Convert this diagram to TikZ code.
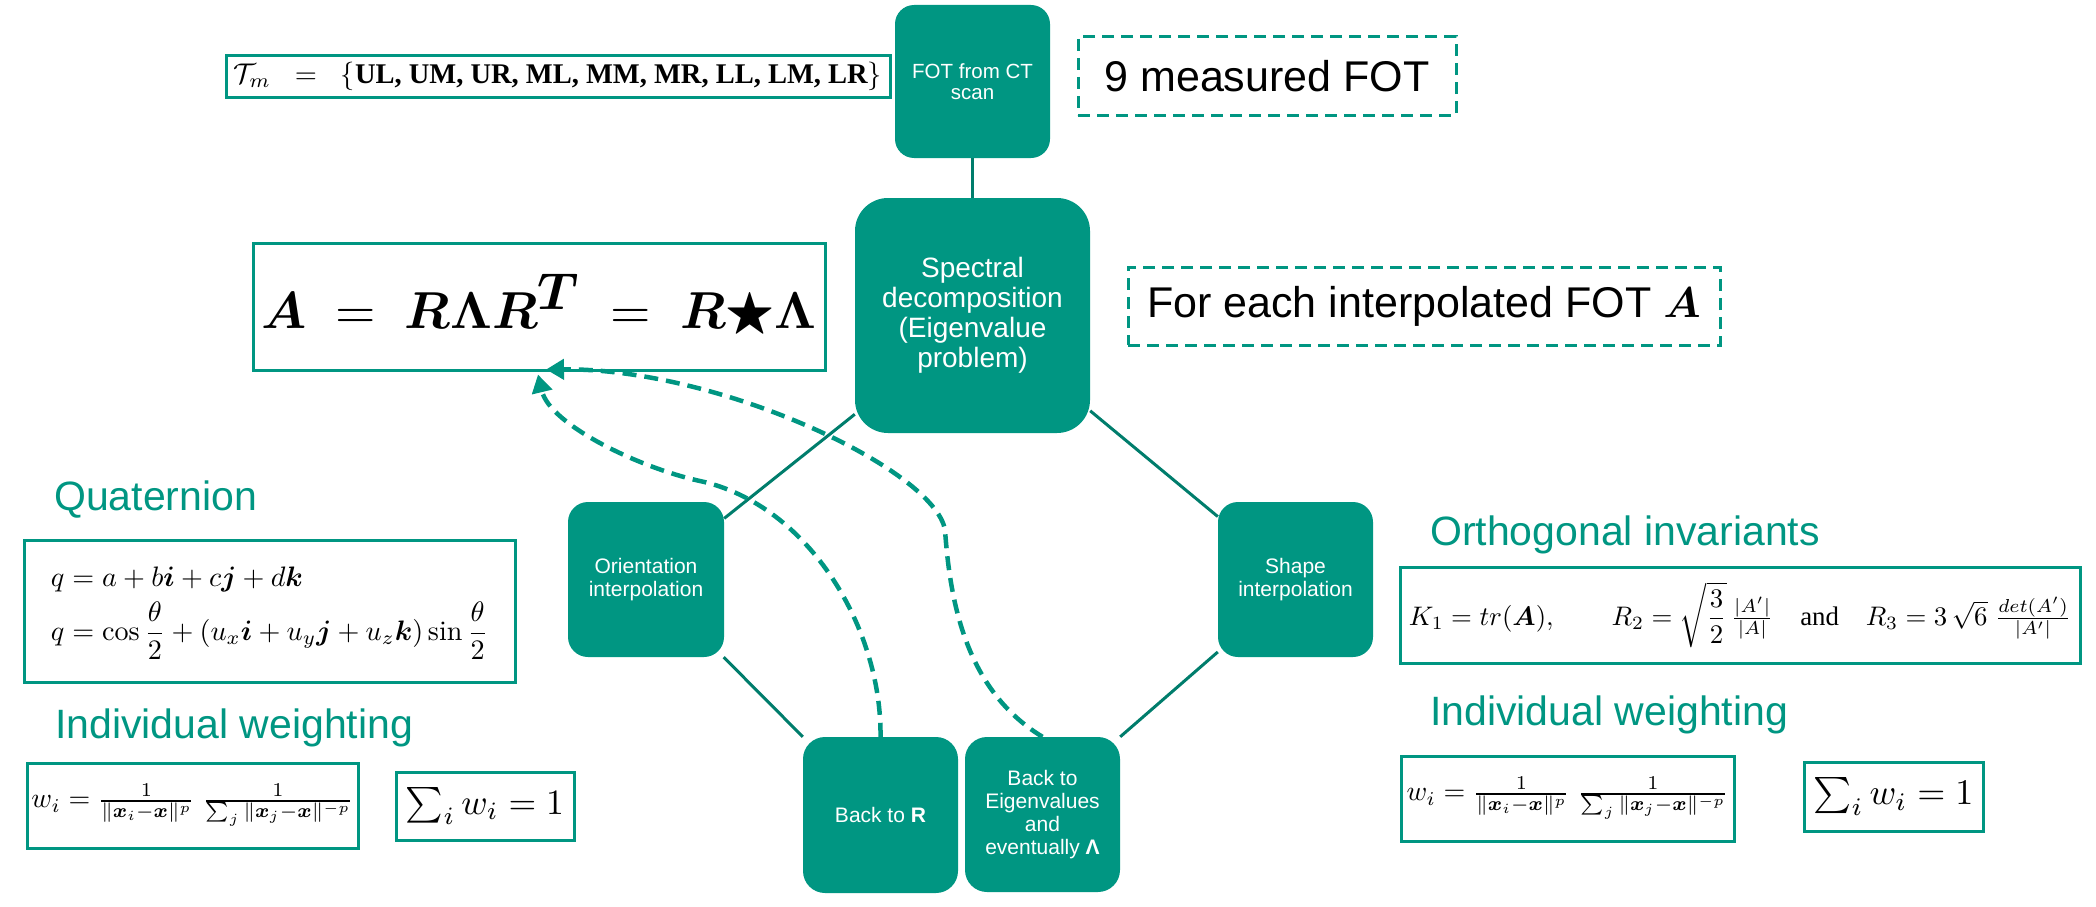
\documentclass[tikz,border=0pt]{standalone}
\usepackage{amsmath,amssymb,bm}
\usepackage{fontspec}
\newfontfamily\arialf{Liberation Sans}
\newfontfamily\timesf{Liberation Serif}
\usetikzlibrary{arrows.meta}
\definecolor{kit}{RGB}{0,150,130}
\definecolor{kitdark}{RGB}{0,125,108}
\begin{document}
\begin{tikzpicture}[x=1pt,y=-1pt,
  gbox/.style={fill=kit, draw=none, text=white, align=center, inner sep=0pt, font=\arialf\fontsize{21}{23}\selectfont},
  fbox/.style={draw=kit, line width=3pt, inner sep=0pt},
  dbox/.style={draw=kit, line width=3pt, dash pattern=on 12pt off 7pt, inner sep=0pt, font=\arialf\fontsize{43}{50}\selectfont},
  ttl/.style={anchor=base west, text=kit, inner sep=0pt, font=\arialf\fontsize{41}{48}\selectfont},
  conn/.style={draw=kitdark, line width=3pt},
  darr/.style={draw=kit, line width=4.5pt, dash pattern=on 14pt off 8pt, -{Triangle[length=18pt,width=20pt]}},
]
\useasboundingbox (0,0) rectangle (2096,907);

% top row
\node[fbox, minimum width=664pt, minimum height=41pt] (tm) at (558,76.5)
  {\resizebox{648pt}{!}{$\mathcal{T}_{m} \;\;=\;\; \{\text{\timesf\bfseries UL, UM, UR, ML, MM, MR, LL, LM, LR}\}$}};
\node[gbox, rounded corners=19pt, minimum width=155pt, minimum height=153pt, font=\arialf\fontsize{20.5}{21.5}\selectfont] (fot) at (972.5,81.5) {FOT from CT\\scan};
\node[dbox, minimum width=378pt, minimum height=78pt] (meas) at (1267,76) {9 measured FOT};

% second row
\node[gbox, rounded corners=33pt, minimum width=235pt, minimum height=235pt, font=\arialf\fontsize{28}{30}\selectfont] (spec) at (972.5,315.5) {Spectral\\decomposition\\(Eigenvalue\\problem)};
\node[fbox, minimum width=572pt, minimum height=127pt] (A) at (539,306.5)
  {\resizebox{555pt}{!}{$\bm{A} \;=\; \bm{R}\bm{\Lambda}\bm{R}^{\textstyle\bm{T}} \;=\; \bm{R}\bigstar\bm{\Lambda}$}};
\node[dbox, minimum width=592pt, minimum height=78pt] (each) at (1424,306) {For each interpolated FOT {\fontsize{10}{12}\selectfont\scalebox{4.3}{$\bm{A}$}}};

% left side
\node[ttl] (tq) at (54,510) {Quaternion};
\node[fbox, minimum width=491pt, minimum height=142pt] (quat) at (269.5,611)
  {\resizebox{437pt}{!}{$\begin{array}{@{}l@{}} q = a + b\bm{i} + c\bm{j} + d\bm{k}\\[2pt] q = \cos\dfrac{\theta}{2} + (u_x\bm{i} + u_y\bm{j} + u_z\bm{k})\sin\dfrac{\theta}{2}\end{array}$}};
\node[ttl] (tw1) at (55,738) {Individual weighting};
\node[fbox, minimum width=331pt, minimum height=85pt] (w1) at (192.5,805.5)
  {\resizebox{322pt}{!}{$w_i = \frac{1}{\|\bm{x}_i-\bm{x}\|^p}\;\frac{1}{\sum_j\|\bm{x}_j-\bm{x}\|^{-p}}$}};
\node[fbox, minimum width=178pt, minimum height=68pt] (s1) at (485,806)
  {\resizebox{158pt}{!}{$\sum_i w_i = 1$}};

% right side
\node[ttl] (to) at (1430,545) {Orthogonal invariants};
\node[fbox, minimum width=680pt, minimum height=96pt] (orth) at (1740,615)
  {\resizebox{662pt}{!}{$K_1 = tr(\bm{A}),\qquad R_2 = \sqrt{\dfrac{3}{2}}\,\frac{|A'|}{|A|}\quad\text{\timesf and}\quad R_3 = 3\,\sqrt{6}\;\frac{det(A')}{|A'|}$}};
\node[ttl] (tw2) at (1430,725) {Individual weighting};
\node[fbox, minimum width=333pt, minimum height=85pt] (w2) at (1567.5,798.5)
  {\resizebox{322pt}{!}{$w_i = \frac{1}{\|\bm{x}_i-\bm{x}\|^p}\;\frac{1}{\sum_j\|\bm{x}_j-\bm{x}\|^{-p}}$}};
\node[fbox, minimum width=179pt, minimum height=69pt] (s2) at (1893.5,796.5)
  {\resizebox{160pt}{!}{$\sum_i w_i = 1$}};

% process boxes
\node[gbox, rounded corners=20pt, minimum width=156pt, minimum height=155pt] (ori) at (646,579.5) {Orientation\\interpolation};
\node[gbox, rounded corners=20pt, minimum width=155pt, minimum height=155pt] (shape) at (1295.5,579.5) {Shape\\interpolation};
\node[gbox, rounded corners=22pt, minimum width=155pt, minimum height=156pt] (bR) at (880.5,815) {Back to \textbf{R}};
\node[gbox, rounded corners=22pt, minimum width=155pt, minimum height=155pt] (bE) at (1042.5,814.5) {Back to\\Eigenvalues\\and\\eventually \textbf{Λ}};

% connectors
\draw[conn] (fot.south) -- (spec.north);
\draw[conn] (spec.220) -- (ori.38);
\draw[conn] (spec.-39) -- (shape.141);
\draw[conn] (ori.-45) -- (bR.north west);
\draw[conn] (shape.223) -- (bE.north east);

% dashed feedback arrows
\draw[darr] (bR.north) .. controls (882,630) and (810,505) .. (700,481)
  .. controls (640,468) and (550,425) .. ([shift={(-1,3)}]A.south);
\draw[darr] (bE.north) .. controls (965,690) and (950,600) .. (945,530)
  .. controls (935,470) and (720,368) .. ([shift={(7,-2)}]A.south);
\end{tikzpicture}
\end{document}
